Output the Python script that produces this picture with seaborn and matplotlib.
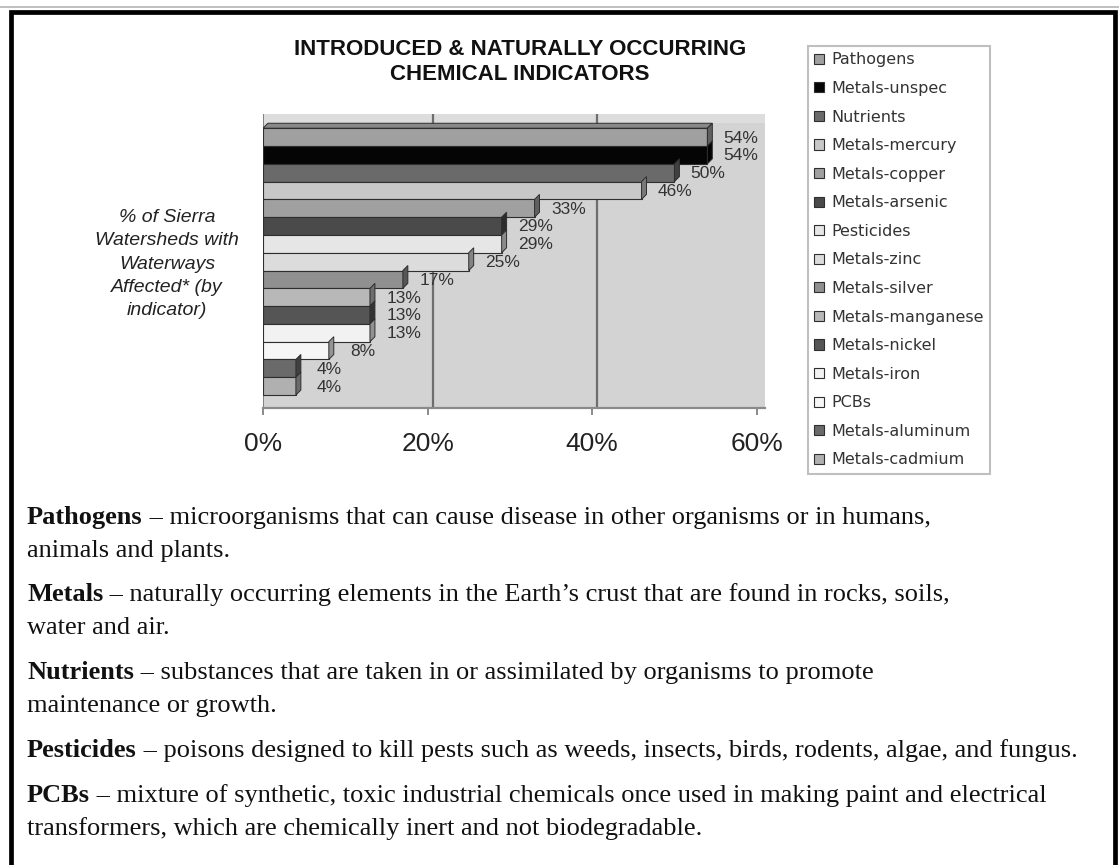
import matplotlib
matplotlib.use("Agg")
import matplotlib.pyplot as plt
from matplotlib.patches import Polygon, Rectangle
from matplotlib.lines import Line2D
from matplotlib.colors import to_rgb
import pandas as pd
import seaborn as sns

# ---- data -------------------------------------------------------------
indicators = [
    "Pathogens", "Metals-unspec", "Nutrients", "Metals-mercury", "Metals-copper",
    "Metals-arsenic", "Pesticides", "Metals-zinc", "Metals-silver", "Metals-manganese",
    "Metals-nickel", "Metals-iron", "PCBs", "Metals-aluminum", "Metals-cadmium",
]
percent_affected = [54, 54, 50, 46, 33, 29, 29, 25, 17, 13, 13, 13, 8, 4, 4]
bar_greys = [
    "#a0a0a0", "#050505", "#6a6a6a", "#c8c8c8", "#a0a0a0",
    "#4a4a4a", "#e6e6e6", "#dcdcdc", "#909090", "#b8b8b8",
    "#555555", "#f2f2f2", "#f6f6f6", "#6a6a6a", "#b0b0b0",
]
x_ticks = [0, 20, 40, 60]
x_tick_labels = ["0%", "20%", "40%", "60%"]
chart_title = "INTRODUCED & NATURALLY OCCURRING\nCHEMICAL INDICATORS"
axis_caption = "% of Sierra\nWatersheds with\nWaterways\nAffected* (by\nindicator)"

glossary_terms = ["Pathogens", "Metals", "Nutrients", "Pesticides", "PCBs"]
glossary_text = [
    ["microorganisms that can cause disease in other organisms or in humans,",
     "animals and plants."],
    ["naturally occurring elements in the Earth\u2019s crust that are found in rocks, soils,",
     "water and air."],
    ["substances that are taken in or assimilated by organisms to promote",
     "maintenance or growth."],
    ["poisons designed to kill pests such as weeds, insects, birds, rodents, algae, and fungus."],
    ["mixture of synthetic, toxic industrial chemicals once used in making paint and electrical",
     "transformers, which are chemically inert and not biodegradable."],
]

# ---- figure -----------------------------------------------------------
sns.set_theme(style="white")
plt.rcParams["font.family"] = ["Liberation Sans", "DejaVu Sans"]

W, H = 1119, 865
fig = plt.figure(figsize=(W / 100, H / 100), dpi=100)
fig.patch.set_facecolor("white")


def fx(px):
    return px / W


def fy(py):
    return 1 - py / H


# page frame: thin grey rule above a heavy black border open at the bottom
fig.add_artist(Line2D([0, 1], [fy(7), fy(7)], transform=fig.transFigure,
                      color="#b4b4b4", lw=1.2))
fig.add_artist(Rectangle((fx(10.5), -0.05), fx(1114.5) - fx(10.5), fy(12) + 0.05,
                         transform=fig.transFigure, fill=False,
                         edgecolor="black", lw=3.4, clip_on=False))

ax = fig.add_axes([fx(263), fy(408), fx(765) - fx(263), fy(114) - fy(408)])
ax.set_facecolor("#d3d3d3")

df = pd.DataFrame({"indicator": indicators, "percent": percent_affected})
sns.barplot(data=df, x="percent", y="indicator", hue="indicator",
            palette=bar_greys, saturation=1, width=1.0, orient="h",
            edgecolor="#2e2e2e", linewidth=0.8, legend=True, ax=ax)

ax.set_xlim(0, 61)
y_top, y_bottom = -1.30, 15.23
ax.set_ylim(y_bottom, y_top)

# depth of the pseudo-3D bars, in data units
dx, dy = 0.6, 0.28


def shade(c, k):
    r, g, b = to_rgb(c)
    return (r * k, g * k, b * k)


# back wall: lighter strip above the first bar, grid lines and left edge
ax.axhspan(y_top, -0.5 - dy, color="#dddddd", zorder=0.2, lw=0)
for t in x_ticks[1:-1]:
    ax.axvline(t + dx, color="#6e6e6e", lw=1.6, zorder=0.4)
ax.axvline(0, color="#808080", lw=1.4, zorder=0.4)

bars = list(ax.patches)
for bar, val in zip(bars, percent_affected):
    x0, y0 = bar.get_x(), bar.get_y()
    w, h = bar.get_width(), bar.get_height()
    fc = bar.get_facecolor()
    xe = x0 + w
    top = Polygon([(x0, y0), (x0 + dx, y0 - dy), (xe + dx, y0 - dy), (xe, y0)],
                  closed=True, facecolor=shade(fc, 0.85), edgecolor="#2e2e2e",
                  lw=0.7, zorder=0.6)
    side = Polygon([(xe, y0), (xe + dx, y0 - dy), (xe + dx, y0 + h - dy), (xe, y0 + h)],
                   closed=True, facecolor=shade(fc, 0.6), edgecolor="#2e2e2e",
                   lw=0.7, zorder=1.1)
    ax.add_patch(top)
    ax.add_patch(side)
    ax.text(xe + 4.1, y0 + h / 2 + 0.05, f"{val}%", ha="center", va="center",
            fontsize=12.5, color="#333333", zorder=3)

for name in ("top", "right", "left"):
    ax.spines[name].set_visible(False)
ax.spines["bottom"].set_color("#8a8a8a")
ax.spines["bottom"].set_linewidth(1.6)

ax.set_xticks(x_ticks)
ax.set_xticklabels(x_tick_labels, fontsize=19, color="#222222")
ax.tick_params(axis="x", bottom=True, length=5, width=1.2, color="#777777", pad=12)
ax.set_yticks([])
ax.set_xlabel("")
ax.set_ylabel("")

sns.move_legend(ax, "upper left", bbox_to_anchor=(fx(808), fy(46)),
                bbox_transform=fig.transFigure, title=None, frameon=True,
                fancybox=False, prop={"family": "DejaVu Sans", "size": 11.5},
                labelspacing=0.85, handlelength=0.6, handleheight=0.6,
                handletextpad=0.45, borderpad=0.4, borderaxespad=0)
leg = ax.get_legend()
leg.get_frame().set_edgecolor("#b0b0b0")
leg.get_frame().set_linewidth(1.5)
for txt in leg.get_texts():
    txt.set_color("#333333")

fig.text(fx(520), fy(62), chart_title, ha="center", va="center",
         fontsize=16, weight="bold", color="#111111", linespacing=1.3)
fig.text(fx(167), fy(264), axis_caption, ha="center", va="center",
         fontsize=14, style="italic", color="#222222", linespacing=1.47)

# ---- glossary below the chart ----------------------------------------
body_size = 19
serif = ["Liberation Serif", "DejaVu Serif"]
block_baselines = [524, 601, 679, 757, 802]
line_step = 33
for term, lines, by in zip(glossary_terms, glossary_text, block_baselines):
    head = fig.text(fx(27), fy(by), term, fontsize=body_size, weight="bold",
                    family=serif, va="baseline", color="#111111")
    ax.annotate(" \u2013 " + lines[0], xy=(1, fy(by)),
                xycoords=(head, "figure fraction"), va="baseline", ha="left",
                fontsize=body_size, family=serif, color="#111111",
                annotation_clip=False)
    for i, extra in enumerate(lines[1:], start=1):
        fig.text(fx(27), fy(by + i * line_step), extra, fontsize=body_size,
                 family=serif, va="baseline", color="#111111")

fig.savefig("out.png", dpi=100, facecolor="white")
